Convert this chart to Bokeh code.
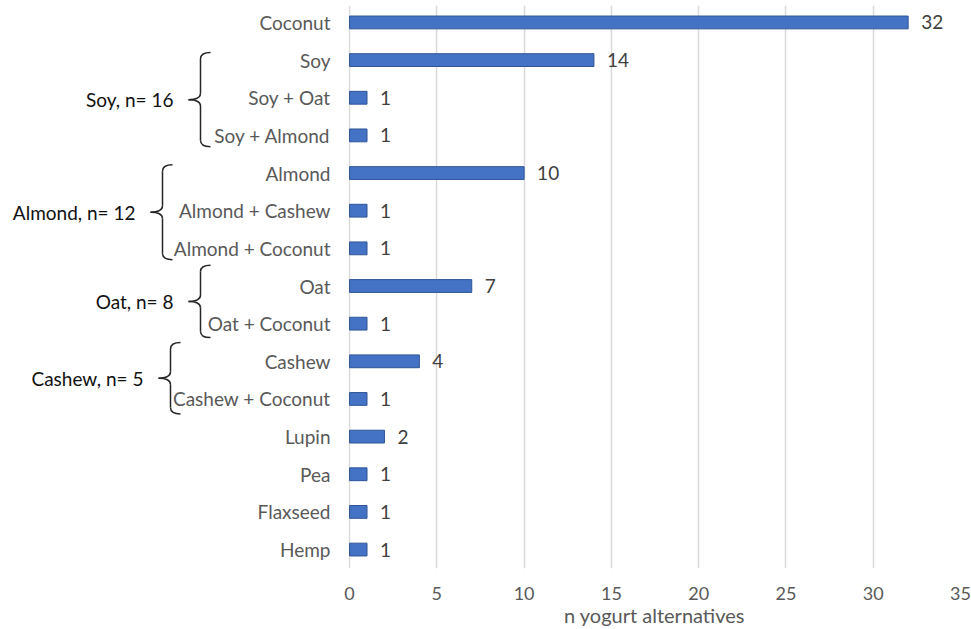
from bokeh.plotting import figure
from bokeh.layouts import row
from bokeh.models import Range1d, FixedTicker
from bokeh.embed import file_html
from bokeh.resources import INLINE
from bokeh.core.properties import value

# ---------------- data ----------------
categories = ["Coconut", "Soy", "Soy + Oat", "Soy + Almond", "Almond",
              "Almond + Cashew", "Almond + Coconut", "Oat", "Oat + Coconut",
              "Cashew", "Cashew + Coconut", "Lupin", "Pea", "Flaxseed", "Hemp"]
counts = [32, 14, 1, 1, 10, 1, 1, 7, 1, 4, 1, 2, 1, 1, 1]

group_labels = ["Soy, n= 16", "Almond, n= 12", "Oat, n= 8", "Cashew, n= 5"]
group_first = ["Soy", "Almond", "Oat", "Cashew"]
group_last = ["Soy + Almond", "Almond + Coconut", "Oat + Coconut", "Cashew + Coconut"]

x_ticks = [0, 5, 10, 15, 20, 25, 30, 35]
x_title = "n yogurt alternatives"

# ---------------- style ----------------
FONT = "Lato"
FS = "19px"
BAR_FILL = "#4472C4"
BAR_LINE = "#2F5597"
GRID = "#d9d9d9"
LABEL_GRAY = "#595959"

# bracket styling (left panel, pixel units)
bracket_x = [200, 162, 200, 170]
bracket_top_pad = [0.2, 0.22, 0.55, 0.5]
bracket_bottom_pad = [0.3, 0.3, 0.37, 0.4]

n = len(categories)
ypos = [n - 1 - i for i in range(n)]
pos_of = dict(zip(categories, ypos))
y_range = Range1d(-0.503, n - 1 + 0.45)

H = 629
TOP = 5
BOTTOM = 59
LEFT_W = 340

# ---------------- right panel: bars ----------------
p = figure(width=971 - LEFT_W, height=H, x_range=Range1d(-0.06, 35), y_range=y_range,
           output_backend="svg", toolbar_location=None, y_axis_location=None,
           min_border_left=8, min_border_right=11, min_border_top=TOP,
           min_border_bottom=BOTTOM)
p.hbar(y=ypos, left=0, right=counts, height=0.34,
       fill_color=BAR_FILL, line_color=BAR_LINE, line_width=1)
p.text(x=counts, y=ypos, text=[str(c) for c in counts], x_offset=13,
       text_align="left", text_baseline="middle", text_font=value(FONT),
       text_font_size=FS, text_color="#404040")

p.xaxis.ticker = FixedTicker(ticks=x_ticks)
p.xaxis.axis_line_color = None
p.xaxis.major_tick_line_color = None
p.xaxis.minor_tick_line_color = None
p.xaxis.major_label_standoff = 12
p.xaxis.major_label_text_font = FONT
p.xaxis.major_label_text_font_size = "18px"
p.xaxis.major_label_text_color = LABEL_GRAY
p.xaxis.axis_label = x_title
p.xaxis.axis_label_standoff = 0
p.xaxis.axis_label_text_font = FONT
p.xaxis.axis_label_text_font_size = "20px"
p.xaxis.axis_label_text_font_style = "normal"
p.xaxis.axis_label_text_color = LABEL_GRAY
p.xgrid.ticker = FixedTicker(ticks=x_ticks)
p.xgrid.grid_line_color = GRID
p.xgrid.grid_line_width = 1.5
p.ygrid.visible = False
p.outline_line_color = None

# ---------------- left panel: labels & brackets ----------------
q = figure(width=LEFT_W, height=H, x_range=Range1d(0, LEFT_W), y_range=y_range,
           output_backend="svg", toolbar_location=None,
           x_axis_location=None, y_axis_location=None,
           min_border_left=0, min_border_right=0, min_border_top=TOP,
           min_border_bottom=BOTTOM)
q.grid.visible = False
q.outline_line_color = None

q.text(x=[330] * n, y=ypos, text=categories, text_align="right",
       text_baseline="middle", text_font=value(FONT), text_font_size=FS,
       text_color=LABEL_GRAY)

r = 0.17
qx0, qy0, qx1, qy1, qcx, qcy = [], [], [], [], [], []
sx0, sy0, sx1, sy1 = [], [], [], []
gx, gy = [], []
for g in range(len(group_labels)):
    yt = pos_of[group_first[g]] + bracket_top_pad[g]
    yb = pos_of[group_last[g]] - bracket_bottom_pad[g]
    ym = (yt + yb) / 2
    xv = bracket_x[g]
    tip = xv - 12
    hook = xv + 10
    curves = [
        (hook, yt, xv, yt - r, xv, yt),
        (xv, ym + r, tip, ym, xv, ym),
        (tip, ym, xv, ym - r, xv, ym),
        (xv, yb + r, hook, yb, xv, yb),
    ]
    for a, b, c, d, e, f in curves:
        qx0.append(a); qy0.append(b); qx1.append(c); qy1.append(d)
        qcx.append(e); qcy.append(f)
    sx0 += [xv, xv]; sy0 += [yt - r, ym - r]
    sx1 += [xv, xv]; sy1 += [ym + r, yb + r]
    gx.append(tip - 15); gy.append(ym)

q.quadratic(x0=qx0, y0=qy0, x1=qx1, y1=qy1, cx=qcx, cy=qcy,
            line_color="#262626", line_width=1.5)
q.segment(x0=sx0, y0=sy0, x1=sx1, y1=sy1, line_color="#262626", line_width=1.5)
q.text(x=gx, y=gy, text=group_labels, text_align="right",
       text_baseline="middle", text_font=value(FONT), text_font_size=FS,
       text_color="#111111")

layout = row(q, p)
open("out.html", "w").write(file_html(layout, INLINE))
